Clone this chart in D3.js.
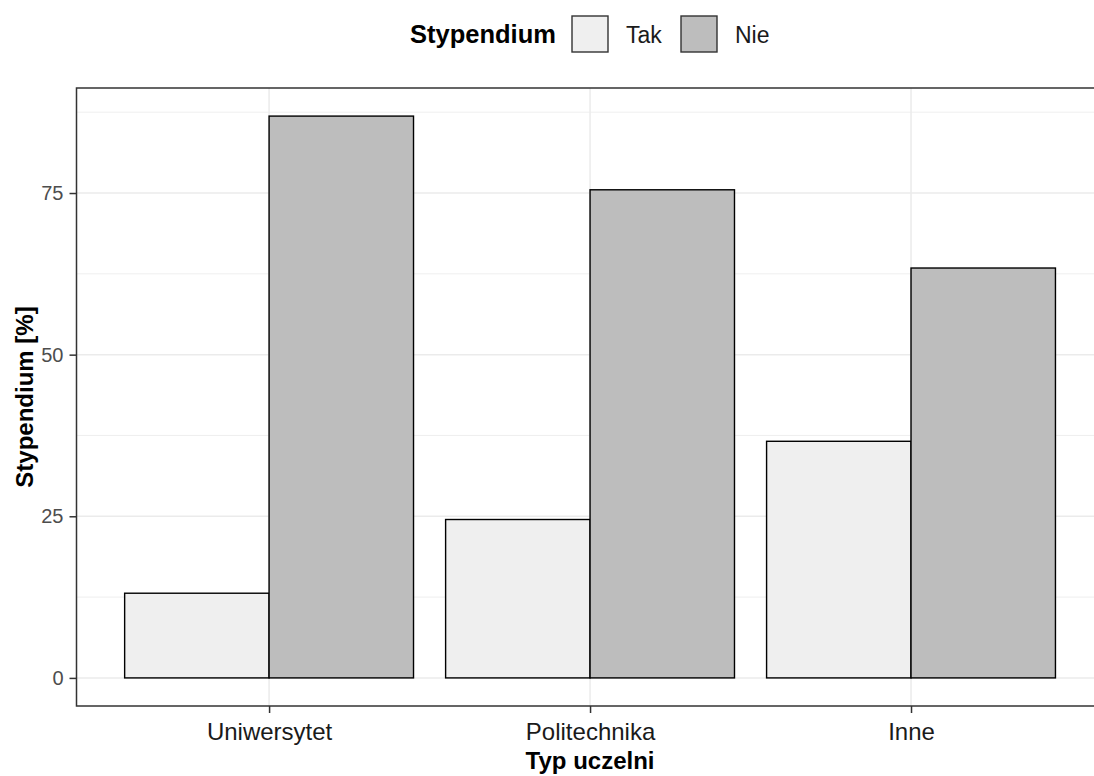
<!DOCTYPE html>
<html><head><meta charset="utf-8">
<script src="https://cdn.jsdelivr.net/npm/d3@7"></script>
<style>body{margin:0;background:#fff}svg{display:block}text{font-family:"Liberation Sans",Arial,sans-serif}</style>
</head><body>
<script>
const categories = ["Uniwersytet", "Politechnika", "Inne"];
const groups = ["Tak", "Nie"];
const takValues = [13.1, 24.5, 36.6];
const nieValues = [86.9, 75.5, 63.4];
const yTicks = [0, 25, 50, 75];
const yMinor = [12.5, 37.5, 62.5, 87.5];
const colors = {Tak: "#EFEFEF", Nie: "#BDBDBD"};

const W = 1094, H = 776;
const m = {left: 76.5, top: 88, right: 1103.6, bottom: 706};
const svg = d3.select("body").append("svg").attr("width", W).attr("height", H);

const data = categories.map((c, i) => ({cat: c, Tak: takValues[i], Nie: nieValues[i]}));
const ymax = d3.max(nieValues.concat(takValues));
const y = d3.scaleLinear().domain([-ymax * 0.05, ymax * 1.05]).range([m.bottom, m.top]);
const step = (m.right - m.left) / (categories.length - 1 + 1.2);
const xc = d3.scalePoint().domain(categories).range([m.left + 0.6 * step, m.right - 0.6 * step]);
const x1 = d3.scaleBand().domain(groups).range([-0.45 * step, 0.45 * step]).padding(0);

const g = svg.append("g");
g.selectAll(".minor").data(yMinor).join("line")
  .attr("x1", m.left).attr("x2", m.right).attr("y1", d => y(d)).attr("y2", d => y(d))
  .attr("stroke", "#EBEBEB").attr("stroke-width", 0.8);
g.selectAll(".major").data(yTicks).join("line")
  .attr("x1", m.left).attr("x2", m.right).attr("y1", d => y(d)).attr("y2", d => y(d))
  .attr("stroke", "#EBEBEB").attr("stroke-width", 1.5);
g.selectAll(".vmajor").data(categories).join("line")
  .attr("x1", d => xc(d)).attr("x2", d => xc(d)).attr("y1", m.top).attr("y2", m.bottom)
  .attr("stroke", "#EBEBEB").attr("stroke-width", 1.5);

const cg = g.selectAll(".cat").data(data).join("g").attr("transform", d => `translate(${xc(d.cat)},0)`);
cg.selectAll("rect").data(d => groups.map(k => ({key: k, value: d[k]}))).join("rect")
  .attr("x", d => x1(d.key)).attr("width", x1.bandwidth())
  .attr("y", d => y(d.value)).attr("height", d => y(0) - y(d.value))
  .attr("fill", d => colors[d.key]).attr("stroke", "#000").attr("stroke-width", 1.4);

svg.append("rect").attr("x", m.left).attr("y", m.top).attr("width", m.right - m.left).attr("height", m.bottom - m.top)
  .attr("fill", "none").attr("stroke", "#333").attr("stroke-width", 1.5);

const yAxis = d3.axisLeft(y).tickValues(yTicks).tickSize(7).tickPadding(6);
const ya = svg.append("g").attr("transform", `translate(${m.left},0)`).call(yAxis);
ya.select(".domain").remove();
ya.selectAll(".tick line").attr("stroke", "#333").attr("stroke-width", 1.5);
ya.selectAll(".tick text").attr("fill", "#4D4D4D").style("font-size", "20px").attr("font-family", null);

const xAxis = d3.axisBottom(xc).tickSize(7).tickPadding(10);
const xa = svg.append("g").attr("transform", `translate(0,${m.bottom})`).call(xAxis);
xa.select(".domain").remove();
xa.selectAll(".tick line").attr("stroke", "#333").attr("stroke-width", 1.5);
xa.selectAll(".tick text").attr("fill", "#1A1A1A").style("font-size", "24px").attr("font-family", null);

svg.append("text").attr("x", (m.left + m.right) / 2).attr("y", 769).attr("text-anchor", "middle")
  .style("font-size", "24px").style("font-weight", "bold").text("Typ uczelni");
svg.append("text").attr("transform", `translate(33,${(m.top + m.bottom) / 2}) rotate(-90)`).attr("text-anchor", "middle")
  .style("font-size", "24px").style("font-weight", "bold").text("Stypendium [%]");

const lg = svg.append("g");
lg.append("text").attr("x", 410).attr("y", 43).style("font-size", "25.5px").style("font-weight", "bold").text("Stypendium");
const keyX = [572, 681];
const labX = [626, 735];
groups.forEach((k, i) => {
  lg.append("rect").attr("x", keyX[i]).attr("y", 16).attr("width", 36).attr("height", 36)
    .attr("fill", colors[k]).attr("stroke", "#333").attr("stroke-width", 1.4);
  lg.append("text").attr("x", labX[i]).attr("y", 43).style("font-size", "23px").attr("fill", "#1A1A1A").text(k);
});
</script>
</body></html>
